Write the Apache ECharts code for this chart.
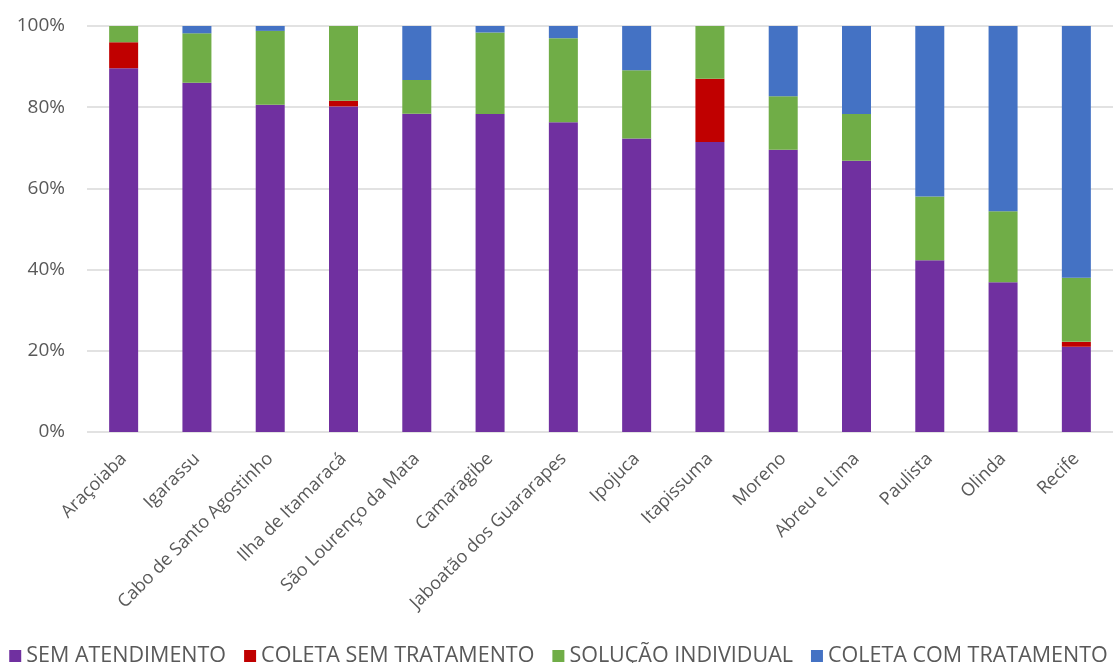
<!DOCTYPE html>
<html>
<head>
<meta charset="utf-8">
<script src="https://cdn.jsdelivr.net/npm/echarts@6/dist/echarts.min.js"></script>
<style>
html, body { margin: 0; padding: 0; background: #fff; }
#chart { width: 1117px; height: 663px; }
</style>
</head>
<body>
<div id="chart"></div>
<script>
var municipios = ['Araçoiaba', 'Igarassu', 'Cabo de Santo Agostinho', 'Ilha de Itamaracá',
    'São Lourenço da Mata', 'Camaragibe', 'Jaboatão dos Guararapes', 'Ipojuca',
    'Itapissuma', 'Moreno', 'Abreu e Lima', 'Paulista', 'Olinda', 'Recife'];

var semAtendimento = [89.6, 86.0, 80.6, 80.2, 78.4, 78.3, 76.3, 72.3, 71.4, 69.5, 66.8, 42.3, 36.9, 21.0];
var coletaSemTratamento = [6.4, 0, 0, 1.4, 0, 0, 0, 0, 15.6, 0, 0, 0, 0, 1.2];
var solucaoIndividual = [4.0, 12.2, 18.2, 18.4, 8.3, 20.1, 20.7, 16.8, 13.0, 13.2, 11.5, 15.7, 17.5, 15.8];
var coletaComTratamento = [0, 1.8, 1.2, 0, 13.3, 1.6, 3.0, 10.9, 0, 17.3, 21.7, 42.0, 45.6, 62.0];

var yTicks = [0, 20, 40, 60, 80, 100];

var dom = document.getElementById('chart');
var myChart = echarts.init(dom);

function barSerie(name, data) {
    return {
        name: name,
        type: 'bar',
        stack: 'total',
        barWidth: 29,
        data: data,
        itemStyle: { borderWidth: 0 }
    };
}

var option = {
    animation: false,
    color: ['#7030a0', '#c00000', '#70ad47', '#4472c4'],
    textStyle: { fontFamily: 'Open Sans' },
    grid: { left: 87, right: 4, top: 26, bottom: 231 },
    legend: {
        top: 640,
        left: 'center',
        itemWidth: 12,
        itemHeight: 12,
        itemGap: 18,
        icon: 'rect',
        textStyle: { fontSize: 21.5, color: '#595959', fontFamily: 'Open Sans' },
        data: ['SEM ATENDIMENTO', 'COLETA SEM TRATAMENTO', 'SOLUÇÃO INDIVIDUAL', 'COLETA COM TRATAMENTO']
    },
    xAxis: {
        type: 'category',
        data: municipios,
        axisLine: { show: false },
        axisTick: { show: false },
        axisLabel: {
            rotate: 45,
            interval: 0,
            fontSize: 18,
            color: '#595959',
            margin: 24
        }
    },
    yAxis: {
        type: 'value',
        min: yTicks[0],
        max: yTicks[yTicks.length - 1],
        interval: 20,
        axisLine: { show: false },
        axisTick: { show: false },
        splitLine: { lineStyle: { color: '#d9d9d9', width: 1.5 } },
        axisLabel: {
            formatter: '{value}%',
            fontSize: 19,
            color: '#595959',
            margin: 22
        }
    },
    series: [
        barSerie('SEM ATENDIMENTO', semAtendimento),
        barSerie('COLETA SEM TRATAMENTO', coletaSemTratamento),
        barSerie('SOLUÇÃO INDIVIDUAL', solucaoIndividual),
        barSerie('COLETA COM TRATAMENTO', coletaComTratamento)
    ]
};

myChart.setOption(option);
</script>
</body>
</html>
